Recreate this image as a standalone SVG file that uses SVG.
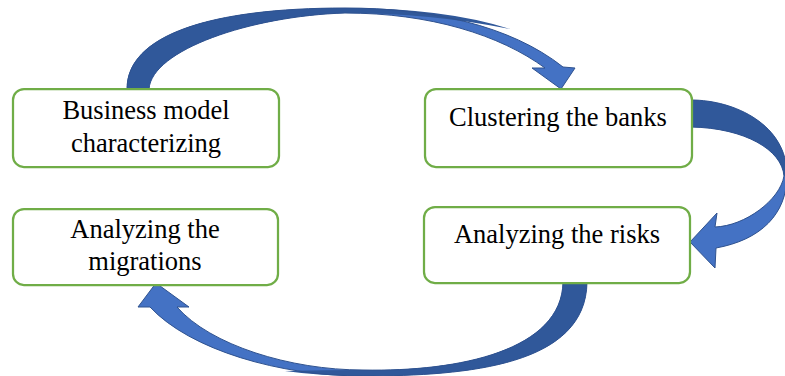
<svg xmlns="http://www.w3.org/2000/svg" width="785" height="376" viewBox="0 0 785 376">
<style>
.box{fill:#fff;stroke:#70ad47;stroke-width:2.25}
.lbl{font-family:"Liberation Serif","Times New Roman",serif;font-size:26.5px;fill:#000;text-anchor:middle}
.light{fill:#4472c4;stroke:none}
.dark{fill:#30589a;stroke:none}
.edge{fill:none;stroke:#2f528f;stroke-width:1;stroke-linejoin:round}
</style>
<rect width="785" height="376" fill="#fff"/>
<g id="connectors">
<g id="arrow-top">
<path class="light" d="M127,89 C127,35 210,8 345,8 C430,8 510,25 563,67 L575,68 L561,89 L532,68 L545,68 C500,35 430,13 345,13 C250,16 152,50 149,89 Z"/>
<path class="dark" d="M127,89 C127,35 210,8 345,8 Q445,8 510,29 Q430,13 345,13 C250,16 152,50 149,89 Z"/>
<path class="edge" d="M127,89 C127,35 210,8 345,8 C430,8 510,25 563,67 L575,68 L561,89 L532,68 L545,68 C500,35 430,13 345,13 C250,16 152,50 149,89 Z"/>
</g>
<g id="arrow-right">
<path class="light" d="M691,100 C735,100 787,125 787,175 C787,215 760,240 716,248 L715,268 L690,242 L717,213 L715,227 C745,226 780,200 784,176 C782,150 745,128 691,127 Z"/>
<path class="dark" d="M691,100 C735,100 787,125 787,175 L784,176 C782,150 745,128 691,127 Z"/>
<path class="edge" d="M691,100 C735,100 787,125 787,175 C787,215 760,240 716,248 L715,268 L690,242 L717,213 L715,227 C745,226 780,200 784,176 C782,150 745,128 691,127 Z"/>
</g>
<g id="arrow-bottom">
<path class="light" d="M587,282 C586,365 470,376 363,376 C280,376 190,350 150,307 L138,307 L156,283 L189,307 L177,307 C210,345 290,370 363,370 C460,372 562,350 563,282 Z"/>
<path class="dark" d="M587,282 C586,365 470,376 363,376 Q320,376 285,371 Q325,370 363,370 C460,372 562,350 563,282 Z"/>
<path class="edge" d="M587,282 C586,365 470,376 363,376 C280,376 190,350 150,307 L138,307 L156,283 L189,307 L177,307 C210,345 290,370 363,370 C460,372 562,350 563,282 Z"/>
</g>
</g>
<g id="node-business">
<rect class="box" x="13" y="89" width="266" height="78" rx="11"/>
<text class="lbl" x="146" y="119">Business model</text>
<text class="lbl" x="146" y="151.5">characterizing</text>
</g>
<g id="node-clustering">
<rect class="box" x="425" y="89" width="267" height="78" rx="11"/>
<text class="lbl" x="558" y="126">Clustering the banks</text>
</g>
<g id="node-risks">
<rect class="box" x="424" y="207" width="266" height="76" rx="11"/>
<text class="lbl" x="557" y="243">Analyzing the risks</text>
</g>
<g id="node-migrations">
<rect class="box" x="13" y="209" width="265" height="76" rx="11"/>
<text class="lbl" x="145" y="238">Analyzing the</text>
<text class="lbl" x="145" y="270">migrations</text>
</g>
</svg>
